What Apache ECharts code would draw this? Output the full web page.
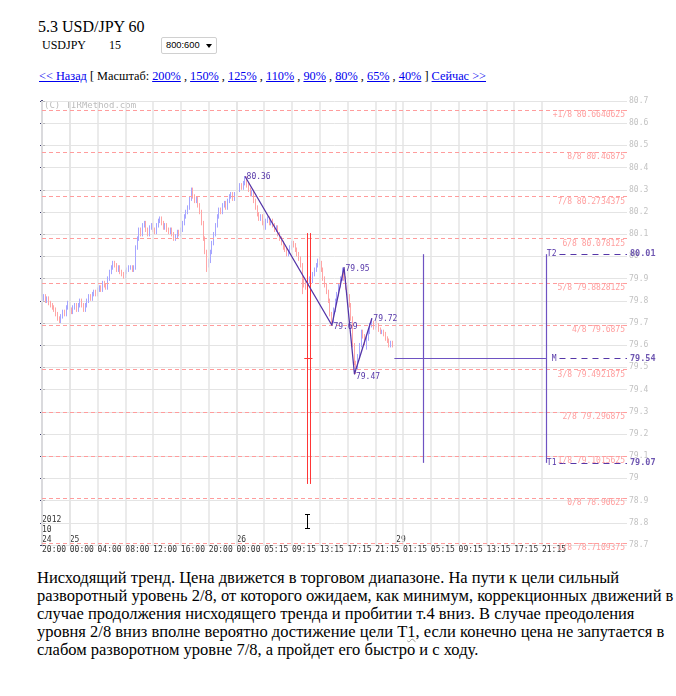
<!DOCTYPE html>
<html><head><meta charset="utf-8">
<script src="https://cdn.jsdelivr.net/npm/echarts@6/dist/echarts.min.js"></script>
<style>
html,body{margin:0;padding:0;background:#fff;}
body{width:676px;height:696px;overflow:hidden;position:relative;font-family:'Liberation Serif','Times New Roman',serif;color:#000;}
.abs{position:absolute;white-space:nowrap;}
#title{left:38px;top:17px;font-size:16px;line-height:20px;}
#sym{left:42px;top:37px;font-size:12px;line-height:16px;}
#per{left:109px;top:37px;font-size:12px;line-height:16px;}
#sel{left:161px;top:37px;width:54px;height:15px;border:1px solid #d0d0d0;border-radius:2px;font-family:'Liberation Sans',Arial,sans-serif;font-size:9.3px;line-height:15px;box-sizing:content-box;}
#sel span{position:absolute;left:4px;top:0;}
#sel i{position:absolute;right:4px;top:6px;width:0;height:0;border-left:3px solid transparent;border-right:3px solid transparent;border-top:4px solid #000;}
#links{left:39px;top:68px;font-size:12.3px;line-height:16px;}
#links a{color:#0000ee;text-decoration:underline;}
#chart{position:absolute;left:0;top:88px;width:676px;height:472px;}
#para{left:37px;top:569px;font-size:16.5px;line-height:18px;}
.sq{text-decoration:underline wavy #999;text-decoration-thickness:1px;}
#cur{position:absolute;left:307px;top:514px;width:1px;height:15px;background:#000;}
#cur:before,#cur:after{content:'';position:absolute;left:-2px;width:5px;height:1px;background:#000;}
#cur:before{top:0;}#cur:after{bottom:0;}
</style></head><body>
<div class="abs" id="title">5.3 USD/JPY 60</div>
<div class="abs" id="sym">USDJPY</div>
<div class="abs" id="per">15</div>
<div class="abs" id="sel"><span>800:600</span><i></i></div>
<div class="abs" id="links"><a href="#">&lt;&lt; Назад</a> [ Масштаб: <a href="#">200%</a> , <a href="#">150%</a> , <a href="#">125%</a> , <a href="#">110%</a> , <a href="#">90%</a> , <a href="#">80%</a> , <a href="#">65%</a> , <a href="#">40%</a> ] <a href="#">Сейчас &gt;&gt;</a></div>
<div id="chart"></div>
<div id="cur"></div>
<div class="abs" id="para">Нисходящий тренд. Цена движется в торговом диапазоне. На пути к цели сильный<br>разворотный уровень 2/8, от которого ожидаем, как минимум, коррекционных движений в<br>случае продолжения нисходящего тренда и пробитии т.4 вниз. В случае преодоления<br>уровня 2/8 вниз вполне вероятно достижение цели Т<span class="sq">1</span>, если конечно цена не запутается в<br>слабом разворотном уровне 7/8, а пройдет его быстро и с ходу.</div>
<script>
// ---- tick labels ----
const tickLabels = ['20:00','00:00','04:00','08:00','12:00','16:00','20:00','00:00','05:15','09:15','13:15','17:15','21:15','01:15','05:15','09:15','13:15','17:15','21:15'];
const barsPerTick = 16;
const dateLabels = ['2012\n10\n24','25','26','29'];
const dateIdx = [0,16,112,204];
const priceMin = 78.7, priceMax = 80.7, priceStep = 0.1;
const barMax = 337;

// ---- 15-minute bars (estimated) ----
const opens = [
79.80,79.81,79.82,79.80,79.81,79.79,79.78,79.77,79.76,79.74,
79.72,79.71,79.73,79.75,79.74,79.77,79.79,79.76,79.75,79.77,
79.78,79.76,79.78,79.80,79.78,79.76,79.78,79.80,79.82,79.81,
79.83,79.84,79.83,79.85,79.86,79.85,79.88,79.87,79.86,79.90,
79.93,79.95,79.97,79.96,79.94,79.95,79.93,79.92,79.91,79.93,
79.94,79.95,79.95,79.94,79.95,80.04,80.08,80.12,80.10,80.14,
80.15,80.12,80.10,80.13,80.14,80.12,80.11,80.14,80.16,80.17,
80.15,80.13,80.14,80.12,80.11,80.12,80.10,80.08,80.09,80.11,
80.10,80.12,80.15,80.18,80.20,80.22,80.26,80.30,80.27,80.25,
80.26,80.23,80.20,80.15,80.08,80.02,79.96,79.98,80.02,80.06,
80.10,80.14,80.18,80.21,80.20,80.23,80.24,80.22,80.25,80.27,
80.28,80.26,80.28,80.29,80.30,80.32,80.31,80.33,80.35,80.32,
80.30,80.28,80.29,80.25,80.22,80.19,80.17,80.18,80.15,80.13,
80.16,80.17,80.15,80.16,80.14,80.12,80.13,80.10,80.08,80.06,
80.04,80.03,80.01,80.02,80.04,80.06,80.05,80.03,80.01,79.99,
79.96,79.90,79.88,79.86,79.89,79.90,79.89,79.92,79.94,79.96,
79.98,79.97,79.94,79.90,79.87,79.84,79.80,79.74,79.71,79.76,
79.80,79.83,79.87,79.90,79.93,79.90,79.86,79.82,79.78,79.72,
79.60,79.52,79.50,79.55,79.60,79.66,79.64,79.61,79.63,79.66,
79.69,79.70,79.68,79.70,79.69,79.67,79.66,79.66,79.65,79.63,
79.62,79.60,79.61];
const closes = [
79.81,79.82,79.80,79.81,79.79,79.78,79.77,79.76,79.74,79.72,
79.71,79.73,79.75,79.74,79.77,79.79,79.76,79.75,79.77,79.78,
79.76,79.78,79.80,79.78,79.76,79.78,79.80,79.82,79.81,79.83,
79.84,79.83,79.85,79.86,79.85,79.88,79.87,79.86,79.90,79.93,
79.95,79.97,79.96,79.94,79.95,79.93,79.92,79.91,79.93,79.94,
79.95,79.95,79.94,79.95,80.04,80.08,80.12,80.10,80.14,80.15,
80.12,80.10,80.13,80.14,80.12,80.11,80.14,80.16,80.17,80.15,
80.13,80.14,80.12,80.11,80.12,80.10,80.08,80.09,80.11,80.10,
80.12,80.15,80.18,80.20,80.22,80.26,80.30,80.27,80.25,80.26,
80.23,80.20,80.15,80.08,80.02,79.96,79.98,80.02,80.06,80.10,
80.14,80.18,80.21,80.20,80.23,80.24,80.22,80.25,80.27,80.28,
80.26,80.28,80.29,80.30,80.32,80.31,80.33,80.35,80.32,80.30,
80.28,80.29,80.25,80.22,80.19,80.17,80.18,80.15,80.13,80.16,
80.17,80.15,80.16,80.14,80.12,80.13,80.10,80.08,80.06,80.04,
80.03,80.01,80.02,80.04,80.06,80.05,80.03,80.01,79.99,79.96,
79.90,79.88,79.86,79.89,79.90,79.89,79.92,79.94,79.96,79.98,
79.97,79.94,79.90,79.87,79.84,79.80,79.74,79.71,79.76,79.80,
79.83,79.87,79.90,79.93,79.90,79.86,79.82,79.78,79.72,79.60,
79.52,79.50,79.55,79.60,79.66,79.64,79.61,79.63,79.66,79.69,
79.70,79.68,79.70,79.69,79.67,79.66,79.66,79.65,79.63,79.62,
79.60,79.61,79.60];
const lows = [
79.79,79.80,79.79,79.79,79.78,79.77,79.76,79.75,79.73,79.71,
79.70,79.70,79.72,79.73,79.73,79.76,79.75,79.74,79.74,79.76,
79.75,79.75,79.77,79.77,79.75,79.75,79.77,79.79,79.80,79.80,
79.82,79.82,79.82,79.84,79.84,79.84,79.86,79.85,79.85,79.89,
79.92,79.94,79.95,79.93,79.93,79.92,79.91,79.90,79.90,79.92,
79.93,79.94,79.93,79.93,79.94,80.03,80.07,80.09,80.09,80.13,
80.11,80.09,80.09,80.12,80.11,80.10,80.10,80.13,80.15,80.14,
80.12,80.12,80.11,80.10,80.10,80.09,80.07,80.07,80.08,80.09,
80.09,80.11,80.14,80.17,80.19,80.21,80.25,80.26,80.24,80.24,
80.22,80.19,80.14,80.07,80.01,79.93,79.95,79.97,80.01,80.05,
80.09,80.13,80.17,80.19,80.19,80.22,80.21,80.21,80.24,80.26,
80.25,80.25,80.27,80.28,80.29,80.30,80.30,80.32,80.31,80.29,
80.27,80.27,80.24,80.21,80.18,80.16,80.16,80.14,80.12,80.12,
80.15,80.14,80.14,80.13,80.11,80.11,80.09,80.07,80.05,80.03,
80.02,80.00,80.00,80.01,80.03,80.04,80.02,80.00,79.98,79.95,
79.83,79.86,79.85,79.85,79.88,79.88,79.88,79.91,79.93,79.95,
79.96,79.93,79.89,79.86,79.83,79.79,79.73,79.69,79.70,79.75,
79.79,79.82,79.86,79.89,79.89,79.85,79.81,79.77,79.71,79.59,
79.51,79.47,79.49,79.54,79.59,79.63,79.60,79.58,79.62,79.65,
79.68,79.67,79.67,79.68,79.66,79.65,79.65,79.64,79.62,79.61,
79.59,79.59,79.59];
const highs = [
79.82,79.83,79.83,79.82,79.82,79.80,79.79,79.78,79.77,79.75,
79.73,79.74,79.76,79.76,79.78,79.80,79.80,79.77,79.78,79.79,
79.79,79.79,79.81,79.81,79.79,79.79,79.81,79.83,79.83,79.84,
79.85,79.85,79.86,79.87,79.87,79.89,79.89,79.88,79.91,79.94,
79.96,79.98,79.98,79.97,79.96,79.96,79.94,79.93,79.94,79.95,
79.96,79.96,79.96,79.96,80.05,80.09,80.13,80.13,80.15,80.16,
80.16,80.13,80.14,80.15,80.15,80.13,80.15,80.17,80.18,80.18,
80.16,80.15,80.15,80.13,80.13,80.13,80.11,80.10,80.12,80.12,
80.13,80.16,80.19,80.21,80.23,80.27,80.31,80.31,80.28,80.27,
80.27,80.24,80.21,80.16,80.09,80.03,79.99,80.03,80.07,80.11,
80.15,80.19,80.22,80.22,80.24,80.25,80.25,80.26,80.28,80.29,
80.29,80.29,80.30,80.31,80.33,80.33,80.34,80.36,80.36,80.33,
80.31,80.30,80.30,80.26,80.23,80.20,80.19,80.19,80.16,80.17,
80.18,80.18,80.17,80.17,80.15,80.14,80.14,80.11,80.09,80.07,
80.05,80.04,80.03,80.05,80.07,80.07,80.06,80.04,80.02,80.00,
79.97,79.91,79.89,79.90,79.91,79.91,79.93,79.95,79.97,79.99,
80.00,79.98,79.95,79.91,79.88,79.85,79.81,79.75,79.77,79.81,
79.84,79.88,79.91,79.95,79.94,79.91,79.87,79.83,79.79,79.73,
79.61,79.53,79.56,79.61,79.67,79.67,79.65,79.64,79.67,79.70,
79.72,79.71,79.71,79.71,79.70,79.68,79.67,79.67,79.66,79.64,
79.63,79.62,79.62];

// ---- Murray levels ----
const murrayNames = ['+1/8','8/8','7/8','6/8','5/8','4/8','3/8','2/8','1/8','0/8','-1/8'];
const murrayLevels = [80.6640625,80.46875,80.2734375,80.078125,79.8828125,79.6875,79.4921875,79.296875,79.1015625,78.90625,78.7109375];

// ---- zigzag pivots ----
const pivotIdx = [117,167,174,180,190];
const pivotPrice = [80.36,79.69,79.95,79.47,79.72];

// ---- red double line ----
const redLineIdx = [152.6,154.6];
const redLineFrom = 78.975, redLineTo = 80.105;
const redTickPrice = 79.54;

// ---- targets ----
const targetNames = ['T2','M','T1'];
const targetPrices = [80.01,79.54,79.07];
const projLineIdx = [219.4,290.3];
const mLineStart = 203;

const purple = '#5536a8', purpleL = '#6e52c2', red = '#ff3636', pink = '#ff9c9c', gridC = '#e4e4e4';
const mono = 'DejaVu Sans Mono';

const chart = echarts.init(document.getElementById('chart'), null, {renderer: 'canvas'});

const candleData = opens.map((o, i) => [i, o, closes[i], lows[i], highs[i]]);
const vGrid = tickLabels.map((_, i) => i * barsPerTick).concat(dateIdx);

function seg(x1, y1, x2, y2, extra) {
  return [Object.assign({coord: [x1, y1]}, extra || {}), {coord: [x2, y2]}];
}

const pivotLabelOffsets = [[0,0],[0,2],[0,1],[0,3],[0,0]];
const zigData = pivotIdx.map((x, i) => ({
  value: [x, pivotPrice[i]],
  label: {offset: pivotLabelOffsets[i]}
}));

const tagEnd = projLineIdx[1] + 7.8;

const option = {
  animation: false,
  backgroundColor: '#fff',
  grid: {left: 42, right: 49, top: 13, bottom: 15, containLabel: false},
  xAxis: [{
    type: 'value', min: 0, max: barMax, interval: 4,
    axisLine: {show: false}, axisTick: {show: false}, splitLine: {show: false},
    axisLabel: {
      show: true, align: 'left', verticalAlign: 'bottom', margin: 9.5,
      fontFamily: mono, fontSize: 8, lineHeight: 10, color: '#333',
      showMinLabel: true, showMaxLabel: true,
      formatter: function (v) {
        const r = Math.round(v);
        const lines = [];
        const di = dateIdx.indexOf(r);
        if (di >= 0) lines.push(dateLabels[di]);
        const t = (r % barsPerTick === 0) ? tickLabels[r / barsPerTick] : undefined;
        if (t === undefined && di < 0) return '';
        lines.push(t === undefined ? ' ' : t);
        return lines.join('\n');
      }
    }
  }],
  yAxis: [{
    type: 'value', position: 'right', min: priceMin, max: priceMax, interval: priceStep,
    axisLine: {show: true, lineStyle: {color: '#8a8aa8', width: 2}},
    axisTick: {show: true, length: 3, lineStyle: {color: '#b8b8b8'}},
    axisLabel: {color: '#c2c2c2', fontFamily: mono, fontSize: 8, margin: 2},
    splitLine: {show: true, lineStyle: {color: gridC, width: 1}}
  }, {
    type: 'value', position: 'left', min: priceMin, max: priceMax, interval: priceStep,
    axisLine: {show: true, lineStyle: {color: '#3d3d6e', width: 2}},
    axisTick: {show: true, length: 2, lineStyle: {color: '#3d3d6e'}},
    axisLabel: {show: false}, splitLine: {show: false}
  }],
  graphic: [{
    type: 'text', left: 44, top: 13, silent: true,
    style: {text: '(C) TIRMethod.com', fill: '#bdbdbd', font: '9px "DejaVu Sans Mono"'}
  }],
  series: [
    { // vertical grid
      type: 'line', data: [], silent: true,
      markLine: {symbol: 'none', silent: true, animation: false, label: {show: false},
        lineStyle: {color: gridC, width: 1.5, type: 'solid'},
        data: vGrid.map(x => ({xAxis: x}))}
    },
    { // Murray levels
      type: 'line', data: [], silent: true,
      markLine: {symbol: 'none', silent: true, animation: false,
        lineStyle: {color: pink, width: 1, type: [4, 3]},
        label: {show: true, position: 'insideEndBottom', distance: [2, 1], color: '#ffa0a0',
          fontFamily: mono, fontSize: 8,
          formatter: p => murrayNames[p.dataIndex] + ' ' + murrayLevels[p.dataIndex]},
        data: murrayLevels.map((v, i) => ({yAxis: v, name: murrayNames[i]}))}
    },
    { // price bars
      type: 'candlestick', data: candleData, encode: {x: 0, y: [1, 2, 3, 4]},
      barWidth: 1,
      itemStyle: {color: '#a6a6ff', color0: '#ffa6a6', borderColor: '#a6a6ff', borderColor0: '#ffa6a6', borderWidth: 1}
    },
    { // red double lines
      type: 'line', data: [], silent: true,
      markLine: {symbol: 'none', silent: true, animation: false, label: {show: false},
        lineStyle: {color: red, width: 1, type: 'solid'},
        data: [
          seg(redLineIdx[0], redLineFrom, redLineIdx[0], redLineTo),
          seg(redLineIdx[1], redLineFrom, redLineIdx[1], redLineTo),
          seg(redLineIdx[0] - 1.5, redTickPrice, redLineIdx[1] + 1.2, redTickPrice)
        ]}
    },
    { // projection lines
      type: 'line', data: [], silent: true,
      markLine: {symbol: 'none', silent: true, animation: false, label: {show: false},
        lineStyle: {color: purpleL, width: 1.2, type: 'solid'},
        data: [
          seg(projLineIdx[0], targetPrices[2], projLineIdx[0], targetPrices[0]),
          seg(projLineIdx[1], targetPrices[2], projLineIdx[1], targetPrices[0]),
          seg(mLineStart, targetPrices[1], projLineIdx[1], targetPrices[1])
        ]}
    },
    { // target dashed tails
      type: 'line', data: [], silent: true,
      markLine: {symbol: 'none', silent: true, animation: false,
        lineStyle: {color: purple, width: 1.2, type: [6, 5]},
        label: {show: true, position: 'start', distance: 3, color: purple, fontFamily: mono, fontSize: 8,
          formatter: p => targetNames[p.dataIndex]},
        data: targetPrices.map((v, i) => seg(tagEnd, v, barMax, v, {name: targetNames[i]}))}
    },
    { // target values on right axis
      type: 'scatter', symbolSize: 0, clip: false, silent: true, z: 10,
      data: targetPrices.map(v => [barMax, v]),
      label: {show: true, position: 'right', distance: 3, color: '#4a2c9e', fontFamily: mono, fontSize: 8.5, fontWeight: 'bold',
        formatter: p => p.value[1].toFixed(2)}
    },
    { // zigzag
      type: 'line', data: zigData, symbol: 'circle', symbolSize: 1, showSymbol: true,
      lineStyle: {color: purple, width: 1.3}, itemStyle: {color: purple},
      label: {show: true, position: 'right', distance: 1, color: purple, fontFamily: mono, fontSize: 8,
        formatter: p => p.value[1].toFixed(2)},
      z: 5
    }
  ]
};
chart.setOption(option);
</script>
</body></html>
